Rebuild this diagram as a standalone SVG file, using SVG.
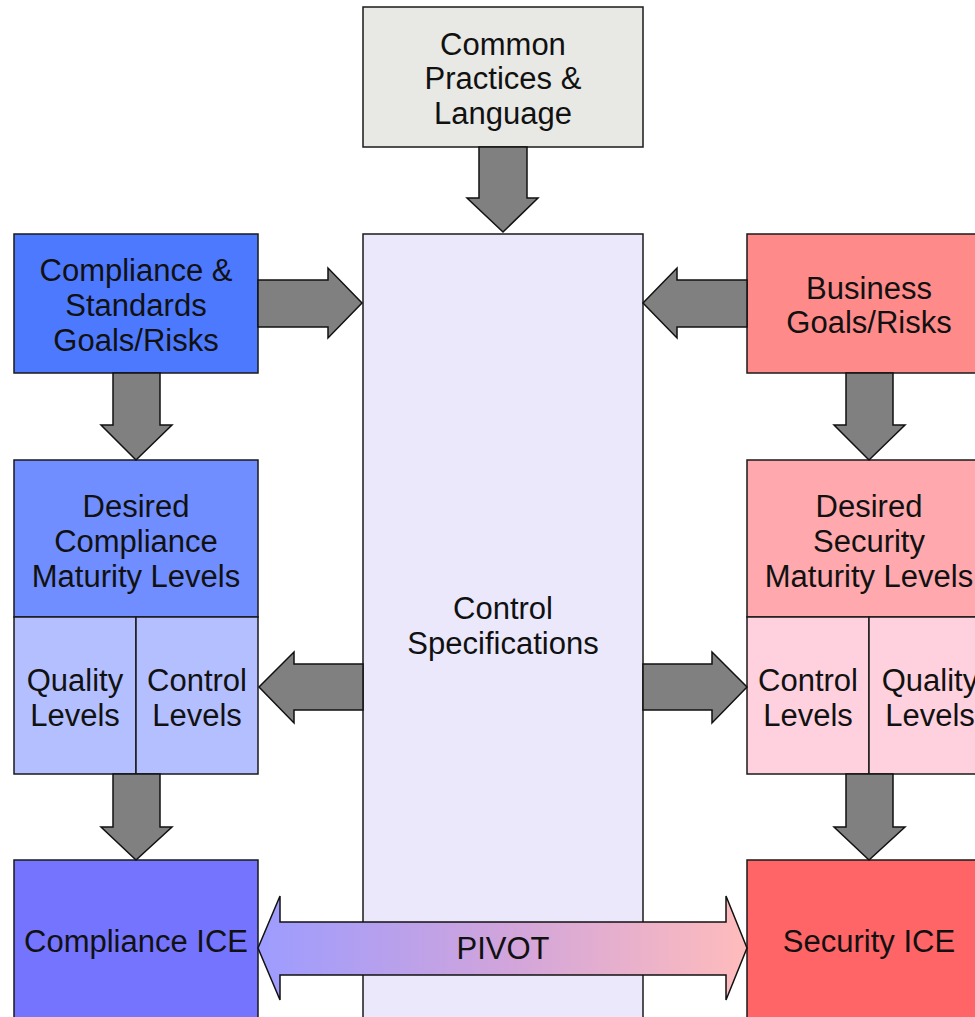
<svg xmlns="http://www.w3.org/2000/svg" width="975" height="1017" viewBox="0 0 975 1017">
<style>
.box{stroke:#1a1a1a;stroke-width:1.5}
.arr{fill:#808080;stroke:#111;stroke-width:1.5;stroke-linejoin:miter}
text{font-family:"Liberation Sans",Arial,sans-serif;font-size:31px;fill:#111;text-anchor:middle}
</style>
<defs>
<linearGradient id="pivotGrad" x1="0" y1="0" x2="1" y2="0">
<stop offset="0" stop-color="#9c9cff"/>
<stop offset="0.5" stop-color="#d0a4dc"/>
<stop offset="1" stop-color="#ffbcbc"/>
</linearGradient>
</defs>
<rect width="975" height="1017" fill="#ffffff"/>

<g id="control-specifications">
<rect class="box" x="363" y="234" width="280" height="800" fill="#ebe8fc"/>
<text x="503" y="619">Control</text>
<text x="503" y="654">Specifications</text>
</g>

<g id="common-practices">
<rect class="box" x="363" y="7" width="280" height="140" fill="#e8e8e4"/>
<text x="503" y="55">Common</text>
<text x="503" y="89">Practices &amp;</text>
<text x="503" y="124">Language</text>
</g>

<g id="compliance-goals">
<rect class="box" x="14" y="234" width="244" height="139" fill="#4d79ff"/>
<text x="136" y="281">Compliance &amp;</text>
<text x="136" y="316">Standards</text>
<text x="136" y="351">Goals/Risks</text>
</g>

<g id="business-goals">
<rect class="box" x="747" y="234" width="244" height="139" fill="#ff8a8a"/>
<text x="869" y="299">Business</text>
<text x="869" y="333">Goals/Risks</text>
</g>

<g id="desired-compliance">
<rect class="box" x="14" y="460" width="244" height="157" fill="#708eff"/>
<text x="136" y="517">Desired</text>
<text x="136" y="552">Compliance</text>
<text x="136" y="587">Maturity Levels</text>
</g>

<g id="compliance-quality-levels">
<rect class="box" x="14" y="617" width="122" height="157" fill="#b4bfff"/>
<text x="75" y="691">Quality</text>
<text x="75" y="726">Levels</text>
</g>

<g id="compliance-control-levels">
<rect class="box" x="136" y="617" width="122" height="157" fill="#b4bfff"/>
<text x="197" y="691">Control</text>
<text x="197" y="726">Levels</text>
</g>

<g id="desired-security">
<rect class="box" x="747" y="460" width="244" height="157" fill="#ffa9ae"/>
<text x="869" y="517">Desired</text>
<text x="869" y="552">Security</text>
<text x="869" y="587">Maturity Levels</text>
</g>

<g id="security-control-levels">
<rect class="box" x="747" y="617" width="122" height="157" fill="#ffd1df"/>
<text x="808" y="691">Control</text>
<text x="808" y="726">Levels</text>
</g>

<g id="security-quality-levels">
<rect class="box" x="869" y="617" width="122" height="157" fill="#ffd1df"/>
<text x="930" y="691">Quality</text>
<text x="930" y="726">Levels</text>
</g>

<g id="compliance-ice">
<rect class="box" x="14" y="860" width="244" height="180" fill="#7474ff"/>
<text x="136" y="952">Compliance ICE</text>
</g>

<g id="security-ice">
<rect class="box" x="747" y="860" width="244" height="180" fill="#ff6466"/>
<text x="869" y="952">Security ICE</text>
</g>

<g id="connectors">
<polygon class="arr" points="479,147 527,147 527,198 538,198 503,232 467,198 479,198"/>
<polygon class="arr" points="258,280 328,280 328,268 362,303 328,338 328,327 258,327"/>
<polygon class="arr" points="747,280 677,280 677,268 643,303 677,338 677,327 747,327"/>
<polygon class="arr" points="113,373 160,373 160,425 172,425 136,460 101,425 113,425"/>
<polygon class="arr" points="113,774 160,774 160,827 172,827 136,860 101,827 113,827"/>
<polygon class="arr" points="846,373 893,373 893,425 905,425 869,460 834,425 846,425"/>
<polygon class="arr" points="846,774 893,774 893,827 905,827 869,860 834,827 846,827"/>
<polygon class="arr" points="363,664 294,664 294,652 259,687 294,723 294,710 363,710"/>
<polygon class="arr" points="643,664 712,664 712,652 747,687 712,723 712,710 643,710"/>
<g id="pivot">
<polygon class="arr" style="fill:url(#pivotGrad)" points="258,948 280,896 280,922 726,922 726,896 747,948 726,1000 726,975 280,975 280,1000"/>
<text x="503" y="959">PIVOT</text>
</g>
</g>
</svg>
